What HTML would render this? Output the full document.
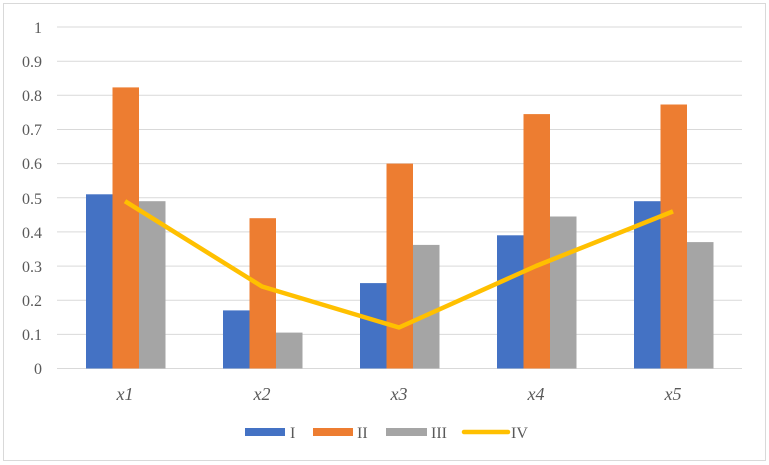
<!DOCTYPE html><html><head><style>body{margin:0;background:#fff}svg{display:block}text{font-family:"Liberation Serif",serif;fill:#595959}</style></head><body>
<svg width="769" height="465" xmlns="http://www.w3.org/2000/svg">
<rect x="3.5" y="3.5" width="762" height="457" fill="#fff" stroke="#d9d9d9"/>
<g stroke="#d9d9d9" stroke-width="1">
<line x1="57" x2="742" y1="27" y2="27"/><line x1="57" x2="742" y1="61.2" y2="61.2"/><line x1="57" x2="742" y1="95.3" y2="95.3"/><line x1="57" x2="742" y1="129.5" y2="129.5"/><line x1="57" x2="742" y1="163.6" y2="163.6"/><line x1="57" x2="742" y1="197.8" y2="197.8"/><line x1="57" x2="742" y1="231.9" y2="231.9"/><line x1="57" x2="742" y1="266.1" y2="266.1"/><line x1="57" x2="742" y1="300.2" y2="300.2"/><line x1="57" x2="742" y1="334.4" y2="334.4"/><line x1="57" x2="742" y1="368.5" y2="368.5"/>
</g>
<g font-size="16" text-anchor="end">
<text x="42" y="33">1</text><text x="42" y="67">0.9</text><text x="42" y="101">0.8</text><text x="42" y="135">0.7</text><text x="42" y="169">0.6</text><text x="42" y="204">0.5</text><text x="42" y="238">0.4</text><text x="42" y="272">0.3</text><text x="42" y="306">0.2</text><text x="42" y="340">0.1</text><text x="42" y="374">0</text>
</g>
<g fill="#4472c4">
<rect x="86" y="194.3" width="26.5" height="174.2"/><rect x="223" y="310.4" width="26.5" height="58.1"/><rect x="360" y="283.1" width="26.5" height="85.4"/><rect x="497" y="235.3" width="26.5" height="133.2"/><rect x="634" y="201.2" width="26.5" height="167.3"/>
</g>
<g fill="#ed7d31">
<rect x="112.5" y="87.4" width="26.5" height="281.1"/><rect x="249.5" y="218.2" width="26.5" height="150.3"/><rect x="386.5" y="163.6" width="26.5" height="204.9"/><rect x="523.5" y="114.1" width="26.5" height="254.4"/><rect x="660.5" y="104.5" width="26.5" height="264"/>
</g>
<g fill="#a5a5a5">
<rect x="139" y="201.2" width="26.5" height="167.3"/><rect x="276" y="332.6" width="26.5" height="35.9"/><rect x="413" y="244.9" width="26.5" height="123.6"/><rect x="550" y="216.5" width="26.5" height="152"/><rect x="687" y="242.1" width="26.5" height="126.4"/>
</g>
<polyline points="125,201.2 262,286.5 399,327.5 536,266 673,211.4" fill="none" stroke="#ffc000" stroke-width="4.5" stroke-linejoin="round"/>
<g font-size="18" font-style="italic" text-anchor="middle">
<text x="125" y="400">x1</text><text x="262" y="400">x2</text><text x="399" y="400">x3</text><text x="536" y="400">x4</text><text x="673" y="400">x5</text>
</g>
<rect x="245" y="428" width="40" height="8" fill="#4472c4"/><text x="290" y="438" font-size="16">I</text>
<rect x="313" y="428" width="40" height="8" fill="#ed7d31"/><text x="357" y="438" font-size="16">II</text>
<rect x="386" y="428" width="41" height="8" fill="#a5a5a5"/><text x="431" y="438" font-size="16">III</text>
<line x1="464" x2="508" y1="432" y2="432" stroke="#ffc000" stroke-width="4.5" stroke-linecap="round"/><text x="511" y="438" font-size="16">IV</text>
</svg>
</body></html>
